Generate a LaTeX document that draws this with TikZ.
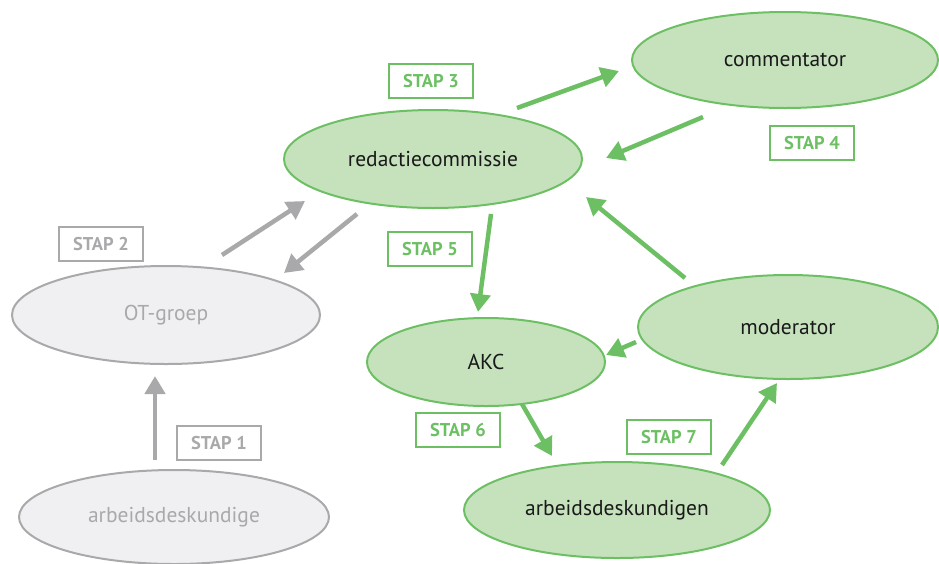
\documentclass[tikz,border=0pt]{standalone}
\usepackage{fontspec}
\setmainfont{PT Sans}
\usetikzlibrary{arrows.meta,shapes.geometric}
\definecolor{groen}{HTML}{6CC063}
\definecolor{lichtgroen}{HTML}{C6E2BD}
\definecolor{grijs}{HTML}{A9A9AB}
\definecolor{lichtgrijs}{HTML}{F0F0F2}

\begin{document}
\begin{tikzpicture}[x=1pt,y=-1pt,
  actor/.style={ellipse, draw=groen, fill=lichtgroen, line width=2pt, inner sep=0pt, font=\fontsize{21.5}{24}\selectfont, text=black!90},
  oud/.style={actor, draw=grijs, fill=lichtgrijs, text=grijs},
  stap/.style={draw=groen, line width=2.5pt, minimum width=84pt, minimum height=34pt, inner sep=0pt, text=groen, font=\fontsize{18.5}{20}\selectfont\bfseries},
  stapoud/.style={stap, draw=grijs, text=grijs},
  pijl/.style={groen, line width=4.5pt, -{Triangle[length=18pt,width=20pt]}},
  pijloud/.style={pijl, grijs}]
  \useasboundingbox (0,0) rectangle (939,563);
  \node (comm) [actor, minimum width=306pt, minimum height=96pt] at (785,60)  {commentator};
  \node (red)  [actor, minimum width=298pt, minimum height=98pt] at (433,159) {redactiecommissie};
  \node (ot)   [oud,   minimum width=308pt, minimum height=98pt] at (166,315) {OT-groep};
  \node (akc)  [actor, minimum width=238pt, minimum height=88pt] at (486,362) {AKC};
  \node (mod)  [actor, minimum width=300pt, minimum height=104pt] at (788,327) {moderator};
  \node (adn)  [actor, minimum width=306pt, minimum height=96pt] at (617,510) {arbeidsdeskundigen};
  \node (ad)   [oud,   minimum width=310pt, minimum height=94pt] at (174,517) {arbeidsdeskundige};

  \node (s1) [stapoud] at (219,443) {STAP 1};
  \node (s2) [stapoud] at (101,244) {STAP 2};
  \node (s3) [stap] at (431,81)  {STAP 3};
  \node (s4) [stap] at (812,143) {STAP 4};
  \node (s5) [stap] at (430,249) {STAP 5};
  \node (s6) [stap] at (458,430) {STAP 6};
  \node (s7) [stap] at (669,437) {STAP 7};

  % uiteinden van de pijlen
  \coordinate (ad-ot)    at (155,460);  \coordinate (ot-in)    at (155,376);
  \coordinate (ot-red)   at (222,255);  \coordinate (red-in)   at (305,201);
  \coordinate (red-ot)   at (357,214);  \coordinate (ot-in2)   at (284,273);
  \coordinate (red-comm) at (517,108);  \coordinate (comm-in)  at (619,71);
  \coordinate (comm-red) at (703,117);  \coordinate (red-in2)  at (606,158);
  \coordinate (red-akc)  at (491,214);  \coordinate (akc-in)   at (478,312);
  \coordinate (akc-adn)  at (522,404);  \coordinate (adn-in)   at (552,456);
  \coordinate (adn-mod)  at (722,465);  \coordinate (mod-in)   at (777,383);
  \coordinate (mod-akc)  at (636,342);  \coordinate (akc-in2)  at (606,355);
  \coordinate (mod-red)  at (685,278);  \coordinate (red-in3)  at (586,197);

  \draw[pijloud] (ad-ot) -- (ot-in);
  \draw[pijloud] (ot-red) -- (red-in);
  \draw[pijloud] (red-ot) -- (ot-in2);
  \draw[pijl] (red-comm) -- (comm-in);
  \draw[pijl] (comm-red) -- (red-in2);
  \draw[pijl] (red-akc) -- (akc-in);
  \draw[pijl] (akc-adn) -- (adn-in);
  \draw[pijl] (adn-mod) -- (mod-in);
  \draw[pijl] (mod-akc) -- (akc-in2);
  \draw[pijl] (mod-red) -- (red-in3);
\end{tikzpicture}
\end{document}
